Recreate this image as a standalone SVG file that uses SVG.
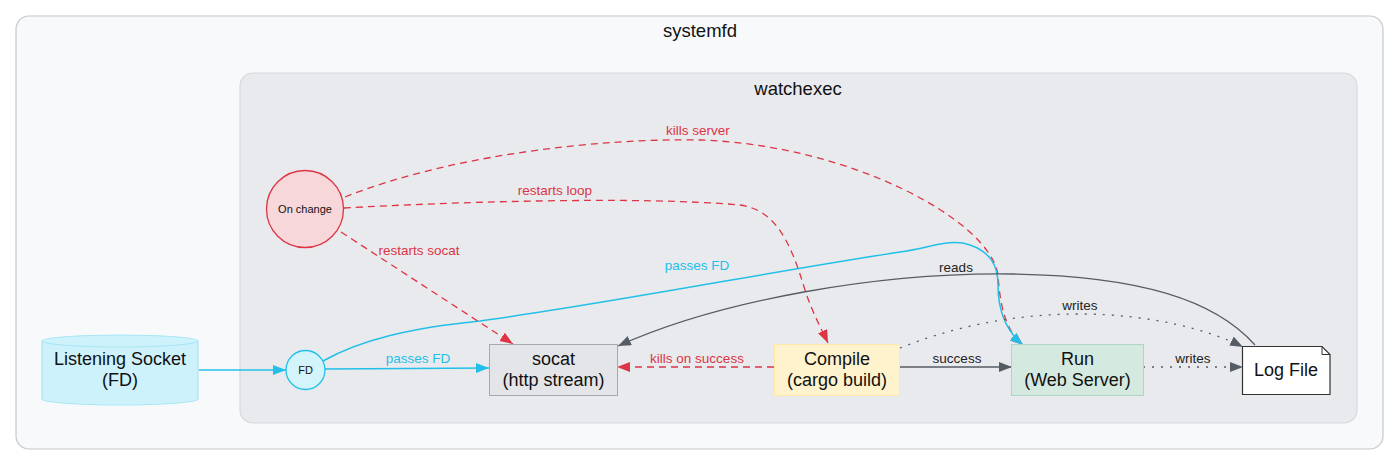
<svg xmlns="http://www.w3.org/2000/svg" width="1400" height="466" viewBox="0 0 1400 466">
<style>
text{font-family:"Liberation Sans",Arial,sans-serif;text-anchor:middle}
.title{font-size:18.5px;fill:#111}
.nl{font-size:18px;fill:#111}
.sl{font-size:11px;fill:#111}
.el{font-size:13.5px}
.cy{fill:none;stroke:#22c0e8;stroke-width:1.5}
.rd{fill:none;stroke:#dc3545;stroke-width:1.3;stroke-dasharray:7,5}
.gy{fill:none;stroke:#555c63;stroke-width:1.3}
.dt{fill:none;stroke:#555c63;stroke-width:1.3;stroke-dasharray:2,7}
</style>
<defs>
<marker id="aC" markerUnits="userSpaceOnUse" markerWidth="14" markerHeight="12" refX="13" refY="5" orient="auto"><path d="M0,0 L13,5 L0,10 z" fill="#22c0e8"/></marker>
<marker id="aR" markerUnits="userSpaceOnUse" markerWidth="14" markerHeight="12" refX="13" refY="5" orient="auto"><path d="M0,0 L13,5 L0,10 z" fill="#dc3545"/></marker>
<marker id="aG" markerUnits="userSpaceOnUse" markerWidth="14" markerHeight="12" refX="13" refY="5" orient="auto"><path d="M0,0 L13,5 L0,10 z" fill="#555c63"/></marker>
</defs>
<rect width="1400" height="466" fill="#ffffff"/>
<g id="cluster-systemfd">
<rect x="16" y="16" width="1367" height="433" rx="13" fill="#f8f9fb" stroke="#c5c8cc" stroke-width="1.2"/>
<text class="title" x="700" y="36.5">systemfd</text>
</g>
<g id="cluster-watchexec">
<rect x="240" y="73" width="1117" height="350" rx="13" fill="#e9eaed" stroke="#d5d8dc" stroke-width="1.2"/>
<text class="title" x="798" y="94.5">watchexec</text>
</g>
<g id="connectors">
<path class="cy" d="M199,370 L286,370" marker-end="url(#aC)"/>
<path class="cy" d="M325,369 L489,368" marker-end="url(#aC)"/>
<text class="el" x="418" y="363" fill="#22c0e8">passes FD</text>
<path class="rd" d="M345,197 C450,155 600,138 700,140 C850,145 990,220 998,275 C1000,305 1005,330 1023,345" marker-end="url(#aR)"/>
<text class="el" x="698" y="135" fill="#dc3545">kills server</text>
<path class="cy" d="M323,361 C360,340 410,328 480,321 C600,305 780,270 900,252 C930,248 950,238 970,245 C990,252 998,265 998,285 C998,310 1005,330 1023,345" marker-end="url(#aC)"/>
<text class="el" x="697" y="270" fill="#22c0e8">passes FD</text>
<path class="rd" d="M344,208 C450,202 640,196 740,205 C775,210 790,240 805,290 C812,312 822,330 828,343" marker-end="url(#aR)"/>
<text class="el" x="555" y="195" fill="#dc3545">restarts loop</text>
<path class="rd" d="M341,232 L513,344" marker-end="url(#aR)"/>
<text class="el" x="419" y="255" fill="#dc3545">restarts socat</text>
<path class="rd" d="M774,367 L617,367" marker-end="url(#aR)"/>
<text class="el" x="697" y="363" fill="#dc3545">kills on success</text>
<path class="gy" d="M900,367 L1012,367" marker-end="url(#aG)"/>
<text class="el" x="957" y="363" fill="#222">success</text>
<path class="dt" d="M1143,367 L1243,367" marker-end="url(#aG)"/>
<text class="el" x="1193" y="363" fill="#222">writes</text>
<path class="dt" d="M900,348 C950,328 1010,314 1080,314 C1150,314 1210,330 1243,347" marker-end="url(#aG)"/>
<text class="el" x="1080" y="310" fill="#222">writes</text>
<path class="gy" d="M1255,345 C1215,300 1140,276 1013,274 C880,272 720,300 618,346" marker-end="url(#aG)"/>
<text class="el" x="956" y="272" fill="#222">reads</text>
</g>
<g id="node-listening-socket">
<path d="M42,341 L42,399 A78,6 0 0 0 198,399 L198,341 A78,6 0 0 0 42,341 Z" fill="#cdf2fb" stroke="#a9e5f5" stroke-width="1.2"/>
<path d="M42,341 A78,6 0 0 0 198,341" fill="none" stroke="#a9e5f5" stroke-width="1.2"/>
<text class="nl" x="120" y="364.5">Listening Socket</text>
<text class="nl" x="120" y="385.5">(FD)</text>
</g>
<g id="node-fd">
<circle cx="305.5" cy="370" r="19.5" fill="#d4f4fc" stroke="#22c0e8" stroke-width="1.3"/>
<text class="sl" x="305.5" y="374">FD</text>
</g>
<g id="node-on-change">
<circle cx="305" cy="209" r="38.5" fill="#f8d7da" stroke="#dc3545" stroke-width="1.3"/>
<text class="sl" x="305" y="213">On change</text>
</g>
<g id="node-socat">
<rect x="489.5" y="344.5" width="128" height="51" fill="#e4e5e8" stroke="#a6a8ab" stroke-width="1"/>
<text class="nl" x="553.5" y="364.5">socat</text>
<text class="nl" x="553.5" y="385.5">(http stream)</text>
</g>
<g id="node-compile">
<rect x="774.5" y="344.5" width="125" height="51" fill="#fff3cd" stroke="#ffe8a8" stroke-width="1"/>
<text class="nl" x="837" y="364.5">Compile</text>
<text class="nl" x="837" y="385.5">(cargo build)</text>
</g>
<g id="node-run">
<rect x="1011.5" y="344.5" width="132" height="51" fill="#d4e9df" stroke="#acd7c2" stroke-width="1"/>
<text class="nl" x="1077.5" y="364.5">Run</text>
<text class="nl" x="1077.5" y="385.5">(Web Server)</text>
</g>
<g id="node-log-file">
<path d="M1242.5,346.5 L1322,346.5 L1330,354.5 L1330,394.5 L1242.5,394.5 Z" fill="#ffffff" stroke="#333333" stroke-width="1.2"/>
<path d="M1322,346.5 L1322,354.5 L1330,354.5" fill="none" stroke="#333333" stroke-width="1"/>
<text class="nl" x="1286" y="376">Log File</text>
</g>
</svg>
